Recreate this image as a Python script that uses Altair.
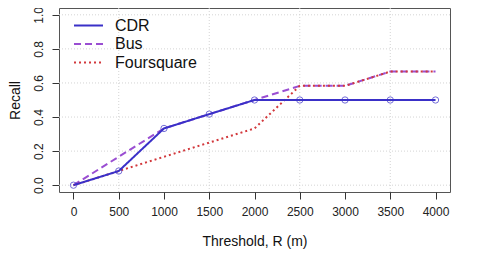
import altair as alt
import pandas as pd

thresholds = [0, 500, 1000, 1500, 2000, 2500, 3000, 3500, 4000]
cdr = [0.0, 0.083, 0.333, 0.417, 0.5, 0.5, 0.5, 0.5, 0.5]
bus = [0.0, 0.167, 0.333, 0.417, 0.5, 0.583, 0.583, 0.667, 0.667]
foursquare = [0.0, 0.083, 0.167, 0.25, 0.333, 0.583, 0.583, 0.667, 0.667]
series_names = ["CDR", "Bus", "Foursquare"]
series_colors = ["#3a30c8", "#9a4ed2", "#d2383c"]
series_dash = [[1, 0], [7, 4], [2, 3]]
x_ticks = [0, 500, 1000, 1500, 2000, 2500, 3000, 3500, 4000]
y_ticks = [0.0, 0.2, 0.4, 0.6, 0.8, 1.0]
grid_x = [500, 1500, 2500, 3500]
grid_y = [0.0, 0.2, 0.4, 0.6, 0.8, 1.0]

rows = []
for name, vals in [("Bus", bus), ("Foursquare", foursquare), ("CDR", cdr)]:
    for t, v in zip(thresholds, vals):
        rows.append({"threshold": t, "recall": v, "series": name})
df = pd.DataFrame(rows)
df_cdr = df[df["series"] == "CDR"]

xscale = alt.Scale(domain=[-160, 4160], nice=False, zero=False)
yscale = alt.Scale(domain=[-0.04, 1.04], nice=False, zero=False)

xaxis = alt.Axis(values=x_ticks, title="Threshold, R (m)", format="d", labelOverlap=False)
yaxis = alt.Axis(values=y_ticks, title="Recall", format=".1f",
                 labelAngle=270, labelAlign="center", labelBaseline="bottom",
                 labelOverlap=False, labelBound=False)

gx = alt.Chart(pd.DataFrame({"g": grid_x})).mark_rule(
    color="#d4d4d4", strokeDash=[1, 2], strokeWidth=1
).encode(x=alt.X("g:Q", scale=xscale, axis=xaxis))
gy = alt.Chart(pd.DataFrame({"g": grid_y})).mark_rule(
    color="#d4d4d4", strokeDash=[1, 2], strokeWidth=1
).encode(y=alt.Y("g:Q", scale=yscale, axis=yaxis))

lines = alt.Chart(df).mark_line(strokeWidth=2).encode(
    x=alt.X("threshold:Q", scale=xscale, axis=xaxis),
    y=alt.Y("recall:Q", scale=yscale, axis=yaxis),
    color=alt.Color("series:N",
                    scale=alt.Scale(domain=series_names, range=series_colors),
                    legend=alt.Legend(title=None, orient="none", legendX=21, legendY=9,
                                      symbolType="M-2,0H2", symbolSize=210,
                                      symbolStrokeWidth=2, labelFontSize=16,
                                      labelFont="Liberation Sans", labelOffset=18,
                                      padding=0, rowPadding=1.5, labelColor="#111")),
    strokeDash=alt.StrokeDash("series:N",
                              scale=alt.Scale(domain=series_names, range=series_dash),
                              legend=None),
    detail="series:N",
)

points = alt.Chart(df_cdr).mark_point(filled=False, size=40, strokeWidth=1, color="#3a30c8").encode(
    x=alt.X("threshold:Q", scale=xscale, axis=xaxis),
    y=alt.Y("recall:Q", scale=yscale, axis=yaxis),
)

chart = alt.layer(gx, gy, lines, points).properties(
    width=391, height=184,
    autosize=alt.AutoSizeParams(type="none"),
    padding={"left": 51, "top": 0, "right": 22, "bottom": 66},
).configure_view(stroke="#555555", strokeWidth=1).configure_axis(
    grid=False, domain=False, tickColor="#333333", tickSize=7,
    labelFont="Liberation Sans", labelFontSize=12, labelColor="#222222",
    titleFont="Liberation Sans", titleFontSize=14, titleFontWeight="normal",
    titleColor="#111111", labelOverlap=False,
).configure_axisX(labelPadding=7, titlePadding=17).configure_axisY(
    labelPadding=7, titlePadding=10
)

chart.save("out.html", embed_options={"renderer": "svg", "actions": False})
